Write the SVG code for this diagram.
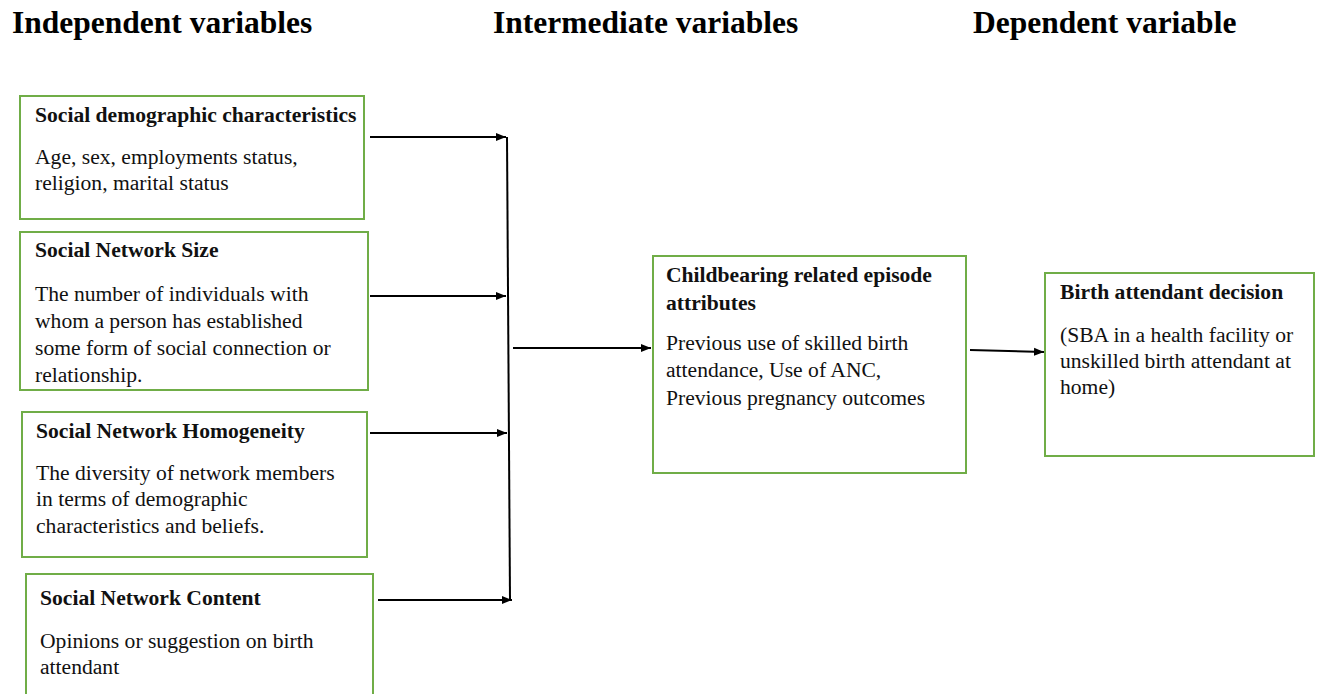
<svg xmlns="http://www.w3.org/2000/svg" width="1318" height="694" viewBox="0 0 1318 694">
<defs>
<style>
.hdr{font-family:"Liberation Serif",serif;font-weight:bold;font-size:31.5px;fill:#000}
.box{fill:#fff;stroke:#70AD47;stroke-width:2}
.t{font-family:"Liberation Serif",serif;font-weight:bold;font-size:21.6px;fill:#111}
.b{font-family:"Liberation Serif",serif;font-size:21.6px;fill:#111}
.c{stroke:#000;stroke-width:2;fill:none}
</style>
<marker id="ah" viewBox="0 0 10 10" refX="10" refY="5" markerWidth="5" markerHeight="5" orient="auto" markerUnits="strokeWidth">
<path d="M0,1 L10,5 L0,9 Z" fill="#000"/>
</marker>
<clipPath id="clip2"><rect x="20" y="232" width="348" height="158"/></clipPath>
</defs>
<rect width="1318" height="694" fill="#fff"/>
<g id="headers">
<text class="hdr" x="12" y="33">Independent variables</text>
<text class="hdr" x="493" y="33">Intermediate variables</text>
<text class="hdr" x="973" y="33">Dependent variable</text>
</g>
<g id="connectors">
<line class="c" x1="370" y1="137" x2="506" y2="137" marker-end="url(#ah)"/>
<line class="c" x1="370" y1="296" x2="506" y2="296" marker-end="url(#ah)"/>
<line class="c" x1="370" y1="433" x2="507" y2="433" marker-end="url(#ah)"/>
<line class="c" x1="378" y1="600" x2="512" y2="600" marker-end="url(#ah)"/>
<line class="c" x1="507" y1="137" x2="510" y2="600"/>
<line class="c" x1="513" y1="348" x2="651" y2="348" marker-end="url(#ah)"/>
<line class="c" x1="970" y1="350" x2="1044" y2="352" marker-end="url(#ah)"/>
</g>
<g id="node-sociodemographic">
<rect class="box" x="20" y="96" width="344" height="123"/>
<text class="t" x="35" y="122">Social demographic characteristics</text>
<text class="b" x="35" y="164">Age, sex, employments status,</text>
<text class="b" x="35" y="190">religion, marital status</text>
</g>
<g id="node-network-size">
<rect class="box" x="20" y="232" width="348" height="158"/>
<text class="t" x="35" y="257">Social Network Size</text>
<g clip-path="url(#clip2)">
<text class="b" x="35" y="301">The number of individuals with</text>
<text class="b" x="35" y="328">whom a person has established</text>
<text class="b" x="35" y="355">some form of social connection or</text>
<text class="b" x="35" y="382">relationship.</text>
</g>
</g>
<g id="node-network-homogeneity">
<rect class="box" x="22" y="412" width="345" height="145"/>
<text class="t" x="36" y="438">Social Network Homogeneity</text>
<text class="b" x="36" y="480">The diversity of network members</text>
<text class="b" x="36" y="506">in terms of demographic</text>
<text class="b" x="36" y="533">characteristics and beliefs.</text>
</g>
<g id="node-network-content">
<rect class="box" x="26" y="574" width="347" height="130"/>
<text class="t" x="40" y="605">Social Network Content</text>
<text class="b" x="40" y="648">Opinions or suggestion on birth</text>
<text class="b" x="40" y="674">attendant</text>
</g>
<g id="node-childbearing">
<rect class="box" x="653" y="256" width="313" height="217"/>
<text class="t" x="666" y="282">Childbearing related episode</text>
<text class="t" x="666" y="310">attributes</text>
<text class="b" x="666" y="350">Previous use of skilled birth</text>
<text class="b" x="666" y="377">attendance, Use of ANC,</text>
<text class="b" x="666" y="405">Previous pregnancy outcomes</text>
</g>
<g id="node-decision">
<rect class="box" x="1045" y="273" width="269" height="183"/>
<text class="t" x="1060" y="299">Birth attendant decision</text>
<text class="b" x="1060" y="342">(SBA in a health facility or</text>
<text class="b" x="1060" y="368">unskilled birth attendant at</text>
<text class="b" x="1060" y="394">home)</text>
</g>
</svg>
